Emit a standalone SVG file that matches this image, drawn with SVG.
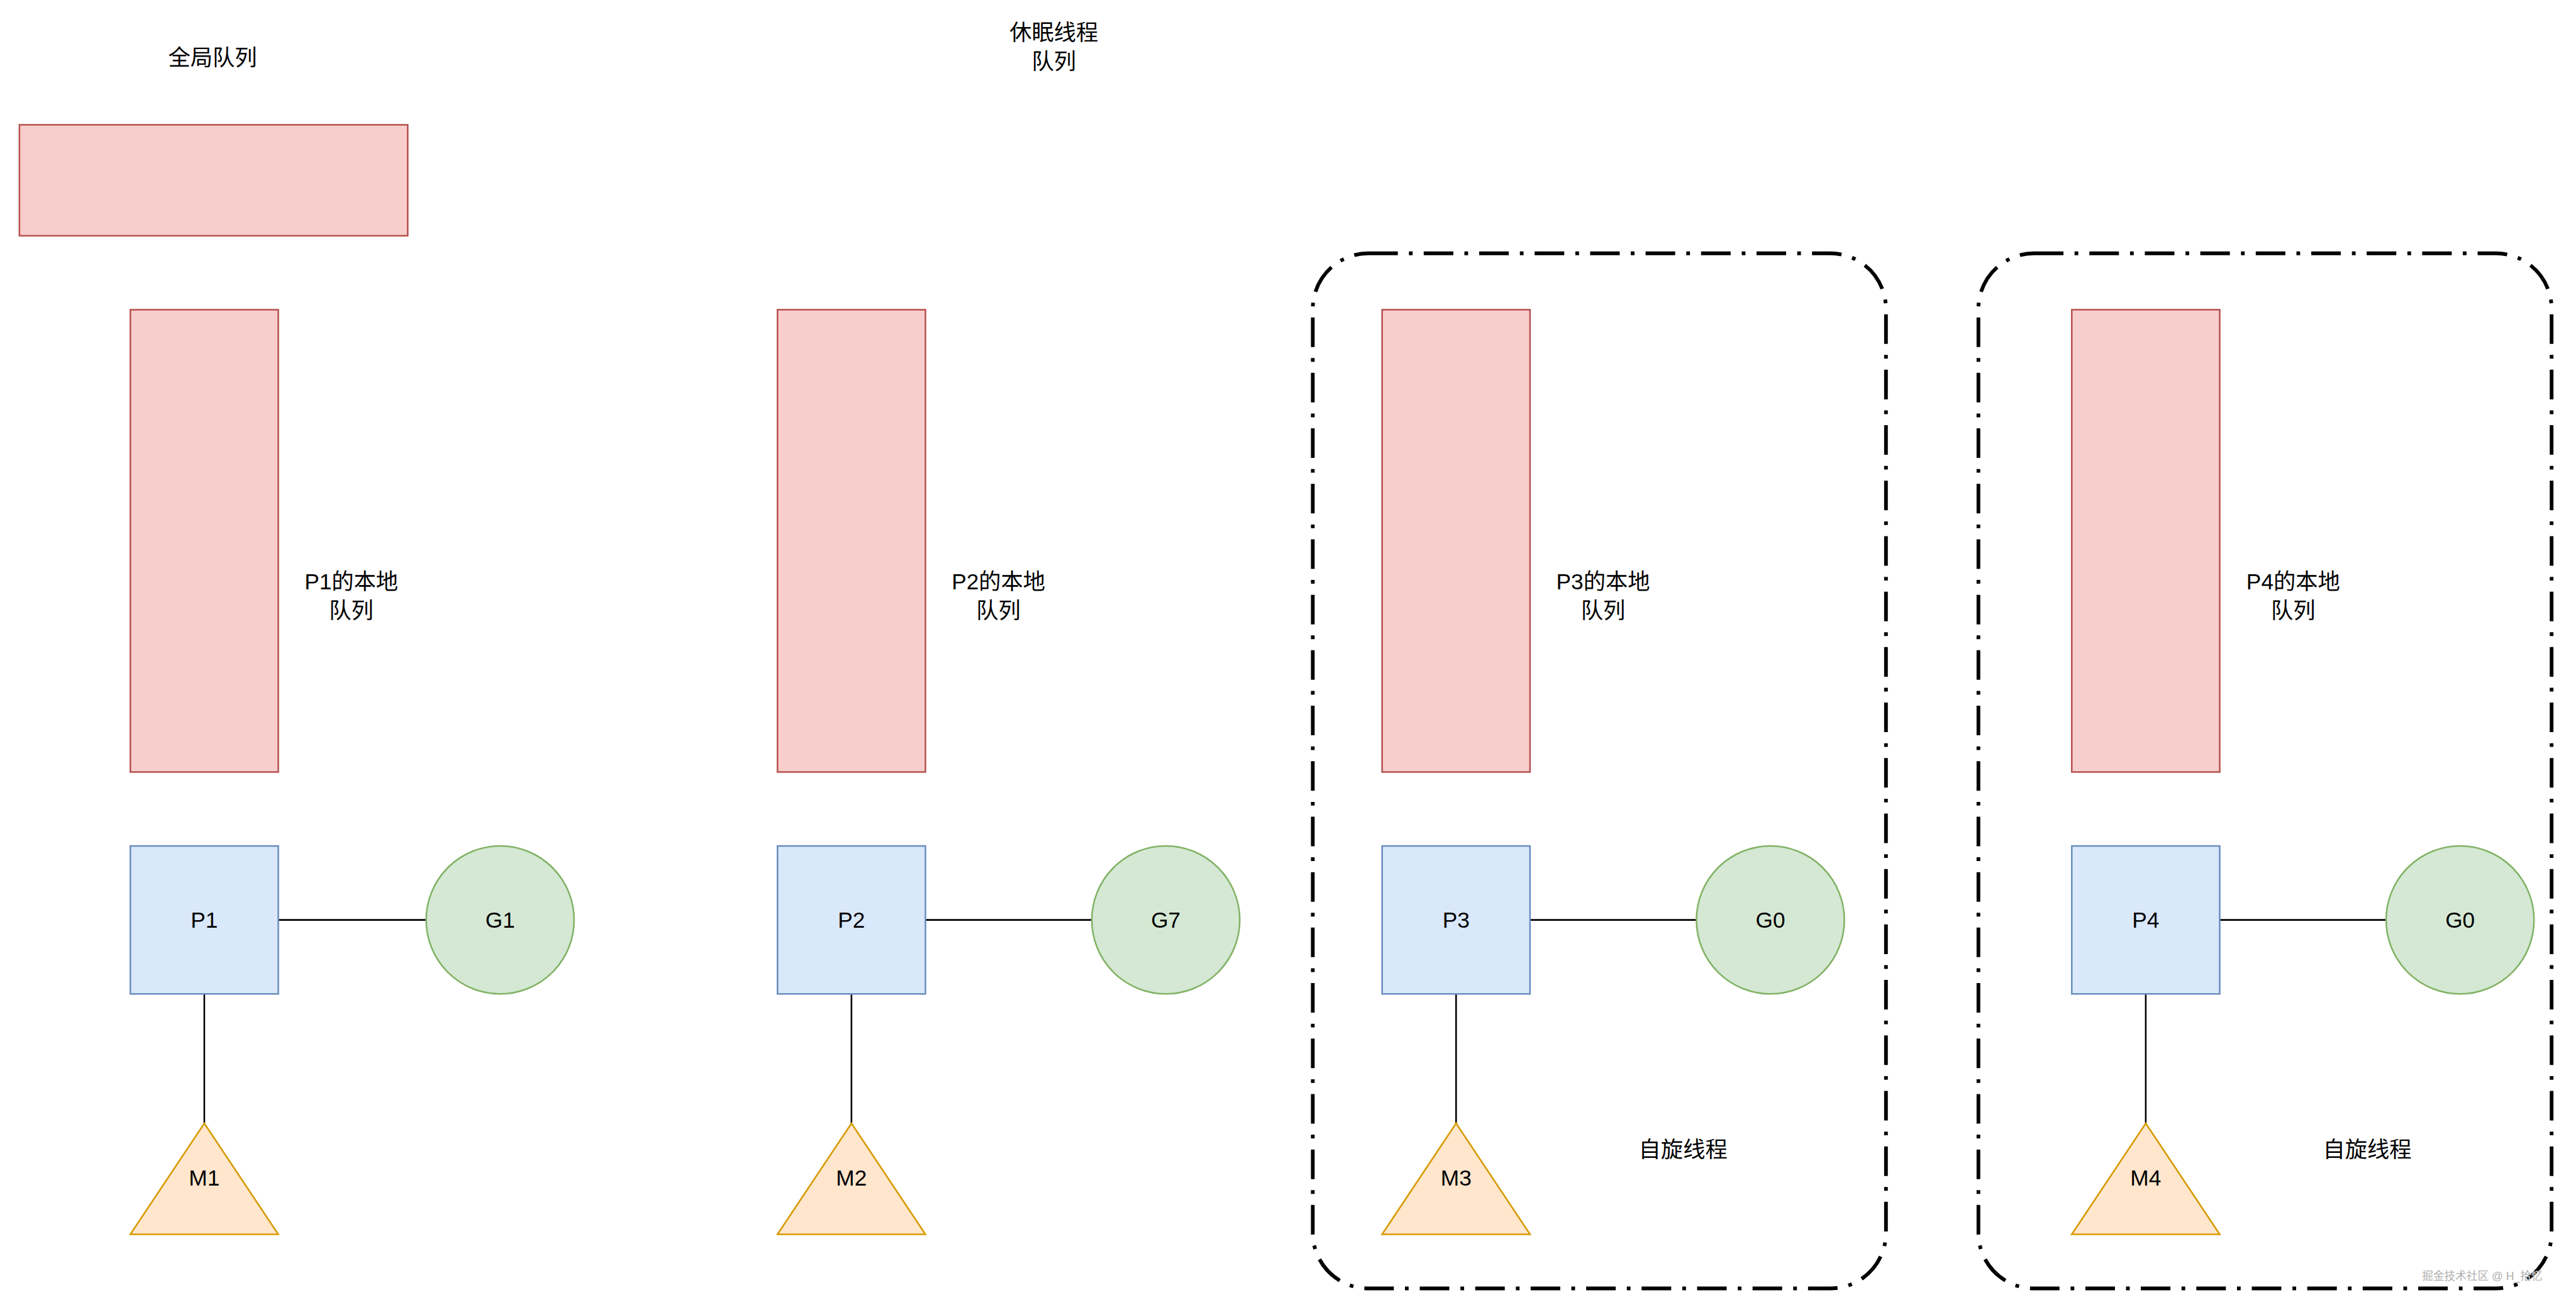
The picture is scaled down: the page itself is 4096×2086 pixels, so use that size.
<svg xmlns="http://www.w3.org/2000/svg" width="4096" height="2086" viewBox="0 0 4096 2086">
<style>
text{font-family:"Liberation Sans","Noto Sans CJK SC",sans-serif;font-size:48px;fill:#000;text-anchor:middle}
.q{fill:#f8cecc;stroke:#b85450;stroke-width:3.5}
.p{fill:#dae8fc;stroke:#6c8ebf;stroke-width:3.5}
.g{fill:#d5e8d4;stroke:#82b366;stroke-width:3.5}
.m{fill:#ffe6cc;stroke:#d79b00;stroke-width:3.5}
.c{stroke:#000;stroke-width:3.5;fill:none}
.box{fill:none;stroke:#000;stroke-width:8;stroke-dasharray:64 24 8 24}
.wm{font-size:24px;fill:#b0b0b0;stroke:#fff;stroke-width:0.6;paint-order:stroke}
</style>
<rect width="4096" height="2086" fill="#fff"/>
<g transform="scale(0.735)">
<g id="spin-box-3"><rect class="box" x="2840" y="548" width="1240" height="2239" rx="120" ry="120"/></g>
<g id="spin-box-4"><rect class="box" x="4280" y="548" width="1240" height="2239" rx="120" ry="120"/></g>

<g id="connectors">
<line class="c" x1="602" y1="1990" x2="922" y2="1990"/>
<line class="c" x1="442" y1="2150" x2="442" y2="2430"/>
<line class="c" x1="2002" y1="1990" x2="2362" y2="1990"/>
<line class="c" x1="1842" y1="2150" x2="1842" y2="2430"/>
<line class="c" x1="3310" y1="1990" x2="3670" y2="1990"/>
<line class="c" x1="3150" y1="2150" x2="3150" y2="2430"/>
<line class="c" x1="4802" y1="1990" x2="5162" y2="1990"/>
<line class="c" x1="4642" y1="2150" x2="4642" y2="2430"/>
</g>

<g id="global-queue"><rect class="q" x="42" y="270" width="840" height="240"/></g>
<g id="global-queue-label"><text x="460" y="141">全局队列</text></g>
<g id="sleep-queue-label"><text x="2280" y="87">休眠线程</text><text x="2280" y="149">队列</text></g>

<g id="queue-p1"><rect class="q" x="282" y="670" width="320" height="1000"/></g>
<g id="queue-p1-label"><text x="760" y="1275">P1的本地</text><text x="760" y="1337">队列</text></g>
<g id="p1"><rect class="p" x="282" y="1830" width="320" height="320"/><text x="442" y="2007">P1</text></g>
<g id="g1"><circle class="g" cx="1082" cy="1990" r="160"/><text x="1082" y="2007">G1</text></g>
<g id="m1"><polygon class="m" points="442,2430 602,2670 282,2670"/><text x="442" y="2565">M1</text></g>

<g id="queue-p2"><rect class="q" x="1682" y="670" width="320" height="1000"/></g>
<g id="queue-p2-label"><text x="2160" y="1275">P2的本地</text><text x="2160" y="1337">队列</text></g>
<g id="p2"><rect class="p" x="1682" y="1830" width="320" height="320"/><text x="1842" y="2007">P2</text></g>
<g id="g7"><circle class="g" cx="2522" cy="1990" r="160"/><text x="2522" y="2007">G7</text></g>
<g id="m2"><polygon class="m" points="1842,2430 2002,2670 1682,2670"/><text x="1842" y="2565">M2</text></g>

<g id="queue-p3"><rect class="q" x="2990" y="670" width="320" height="1000"/></g>
<g id="queue-p3-label"><text x="3468" y="1275">P3的本地</text><text x="3468" y="1337">队列</text></g>
<g id="p3"><rect class="p" x="2990" y="1830" width="320" height="320"/><text x="3150" y="2007">P3</text></g>
<g id="g0-a"><circle class="g" cx="3830" cy="1990" r="160"/><text x="3830" y="2007">G0</text></g>
<g id="m3"><polygon class="m" points="3150,2430 3310,2670 2990,2670"/><text x="3150" y="2565">M3</text></g>
<g id="spin-label-3"><text x="3641" y="2504">自旋线程</text></g>

<g id="queue-p4"><rect class="q" x="4482" y="670" width="320" height="1000"/></g>
<g id="queue-p4-label"><text x="4961" y="1275">P4的本地</text><text x="4961" y="1337">队列</text></g>
<g id="p4"><rect class="p" x="4482" y="1830" width="320" height="320"/><text x="4642" y="2007">P4</text></g>
<g id="g0-b"><circle class="g" cx="5322" cy="1990" r="160"/><text x="5322" y="2007">G0</text></g>
<g id="m4"><polygon class="m" points="4642,2430 4802,2670 4482,2670"/><text x="4642" y="2565">M4</text></g>
<g id="spin-label-4"><text x="5121" y="2504">自旋线程</text></g>

<g id="watermark"><text class="wm" x="5370" y="2769">掘金技术社区 @ H_拾忆</text></g>
</g>
</svg>
